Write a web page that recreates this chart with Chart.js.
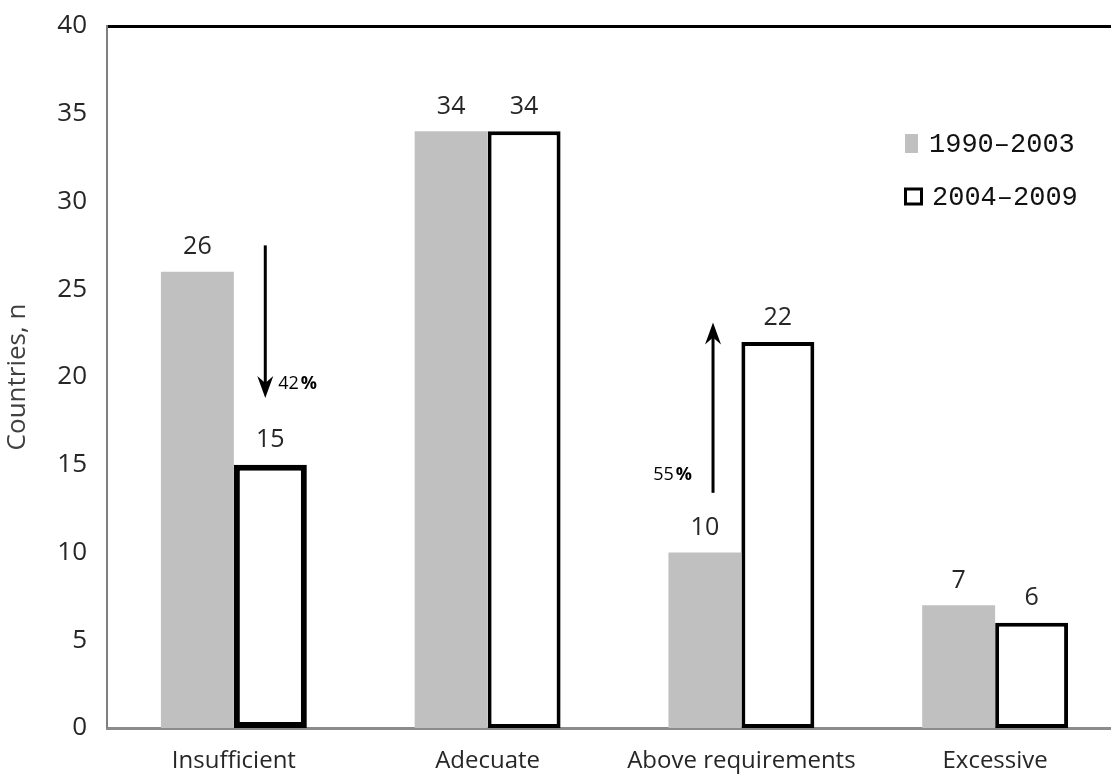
<!DOCTYPE html>
<html>
<head>
<meta charset="utf-8">
<script src="https://cdn.jsdelivr.net/npm/chart.js@4.4.1/dist/chart.umd.min.js"></script>
<style>
  html, body { margin: 0; padding: 0; background: #ffffff; overflow: hidden; }
  #wrap { width: 1111px; height: 779px; overflow: hidden; }
  #c { display: block; }
</style>
</head>
<body>
<div id="wrap"><canvas id="c" width="1122" height="779"></canvas></div>
<script>
// ---- data ----
const categories = ['Insufficient', 'Adecuate', 'Above requirements', 'Excessive'];
const seriesNames = ['1990\u20132003', '2004\u20132009'];
const values1990_2003 = [26, 34, 10, 7];
const values2004_2009 = [15, 34, 22, 6];
const yTicks = [0, 5, 10, 15, 20, 25, 30, 35, 40];
// change arrows: category index, start value, end value, label
const arrowCategory = [0, 2];
const arrowFrom = [27.5, 13.4];
const arrowTo = [18.8, 23.1];
const arrowText = ['42', '55'];

const GRAY = '#c0c0c0';

const valueLabels = {
  id: 'valueLabels',
  afterDatasetsDraw(chart) {
    const ctx = chart.ctx;
    ctx.save();
    ctx.font = '25px "Open Sans"';
    ctx.fillStyle = '#262626';
    ctx.textAlign = 'center';
    ctx.textBaseline = 'bottom';
    chart.data.datasets.forEach((ds, di) => {
      const meta = chart.getDatasetMeta(di);
      meta.data.forEach((el, i) => {
        ctx.fillText(String(ds.data[i]), el.x, el.y - 12);
      });
    });
    ctx.restore();
  }
};

const changeArrows = {
  id: 'changeArrows',
  afterDatasetsDraw(chart) {
    const ctx = chart.ctx;
    const xs = chart.scales.x, ys = chart.scales.y;
    const catW = xs.getPixelForValue(1) - xs.getPixelForValue(0);
    ctx.save();
    arrowCategory.forEach((ci, k) => {
      const m0 = chart.getDatasetMeta(0).data[ci];
      const m1 = chart.getDatasetMeta(1).data[ci];
      const up = arrowTo[k] > arrowFrom[k];
      const x = up ? (m0.x + catW * 0.032) : (m1.x - catW * 0.02);
      const y0 = ys.getPixelForValue(arrowFrom[k]);
      const y1 = ys.getPixelForValue(arrowTo[k]);
      const dir = up ? -1 : 1;
      ctx.strokeStyle = '#000';
      ctx.fillStyle = '#000';
      ctx.lineWidth = 3;
      ctx.beginPath();
      ctx.moveTo(x, y0);
      ctx.lineTo(x, y1 - dir * 10);
      ctx.stroke();
      ctx.beginPath();
      ctx.moveTo(x, y1);
      ctx.lineTo(x - 8, y1 - dir * 22);
      ctx.lineTo(x, y1 - dir * 15);
      ctx.lineTo(x + 8, y1 - dir * 22);
      ctx.closePath();
      ctx.fill();
      ctx.textBaseline = 'middle';
      const numFont = '18px "Open Sans"';
      const pctFont = 'bold 18px "Open Sans"';
      ctx.font = numFont;
      const wNum = ctx.measureText(arrowText[k]).width;
      ctx.font = pctFont;
      const wPct = ctx.measureText('%').width;
      let tx, ty;
      if (up) {
        tx = x - 21 - (wNum + 2 + wPct);
        ty = ys.getPixelForValue(arrowFrom[k] + 1.0);
      } else {
        tx = x + 13;
        ty = y1 - 14;
      }
      ctx.textAlign = 'left';
      ctx.font = numFont;
      ctx.fillText(arrowText[k], tx, ty);
      ctx.font = pctFont;
      ctx.fillText('%', tx + wNum + 2, ty);
    });
    ctx.restore();
  }
};

const insideLegend = {
  id: 'insideLegend',
  afterDraw(chart) {
    const ctx = chart.ctx;
    ctx.save();
    const x0 = 905, rowY = [144, 197];
    chart.data.datasets.forEach((ds, i) => {
      const cy = rowY[i];
      if (i === 0) {
        ctx.fillStyle = ds.backgroundColor;
        ctx.fillRect(x0, cy - 10, 13, 19);
      } else {
        ctx.fillStyle = '#fff';
        ctx.fillRect(x0, cy - 8, 17, 16);
        ctx.strokeStyle = '#000';
        ctx.lineWidth = 3;
        ctx.strokeRect(x0 + 0.5, cy - 8, 16, 15);
      }
      ctx.fillStyle = '#111';
      ctx.font = '27px "Liberation Mono"';
      ctx.textAlign = 'left';
      ctx.textBaseline = 'middle';
      ctx.fillText(ds.label, x0 + 24 + (i === 1 ? 3 : 0), cy + 1);
    });
    ctx.restore();
  }
};

new Chart(document.getElementById('c'), {
  type: 'bar',
  data: {
    labels: categories,
    datasets: [
      {
        label: seriesNames[0],
        data: values1990_2003,
        backgroundColor: GRAY,
        borderWidth: 0,
        categoryPercentage: 0.575,
        barPercentage: 1.0
      },
      {
        label: seriesNames[1],
        data: values2004_2009,
        backgroundColor: '#ffffff',
        borderColor: '#000000',
        borderWidth: [6, 4, 4, 4],
        borderSkipped: false,
        categoryPercentage: 0.575,
        barPercentage: 1.0
      }
    ]
  },
  options: {
    responsive: false,
    animation: false,
    layout: { padding: { top: 26, right: 0, left: 0, bottom: 0 } },
    plugins: {
      legend: { display: false },
      tooltip: { enabled: false }
    },
    scales: {
      x: {
        grid: { display: false },
        border: { display: true, color: '#8c8c8c', width: 3 },
        ticks: {
          color: '#262626',
          font: { family: 'Open Sans', size: 24 },
          padding: 11,
          maxRotation: 0,
          autoSkip: false
        },
        afterFit(scale) { scale.height = 51; scale.paddingLeft = 0; scale.paddingRight = 0; }
      },
      y: {
        min: 0,
        max: 40,
        afterBuildTicks(scale) { scale.ticks = yTicks.map(v => ({ value: v })); },
        grid: {
          drawTicks: false,
          color: (c) => (c.tick && c.tick.value === 40 ? '#000000' : 'rgba(0,0,0,0)'),
          lineWidth: (c) => (c.tick && c.tick.value === 40 ? 3 : 0)
        },
        border: { display: true, color: '#7f7f7f', width: 2 },
        ticks: {
          color: '#262626',
          font: { family: 'Open Sans', size: 26 },
          padding: 20
        },
        title: {
          display: true,
          text: 'Countries, n',
          color: '#404040',
          font: { family: 'Open Sans', size: 26 },
          padding: { top: 2, bottom: 0 }
        },
        afterFit(scale) { scale.width = 107; scale.paddingTop = 0; scale.paddingBottom = 0; }
      }
    }
  },
  plugins: [valueLabels, changeArrows, insideLegend]
});
</script>
</body>
</html>
